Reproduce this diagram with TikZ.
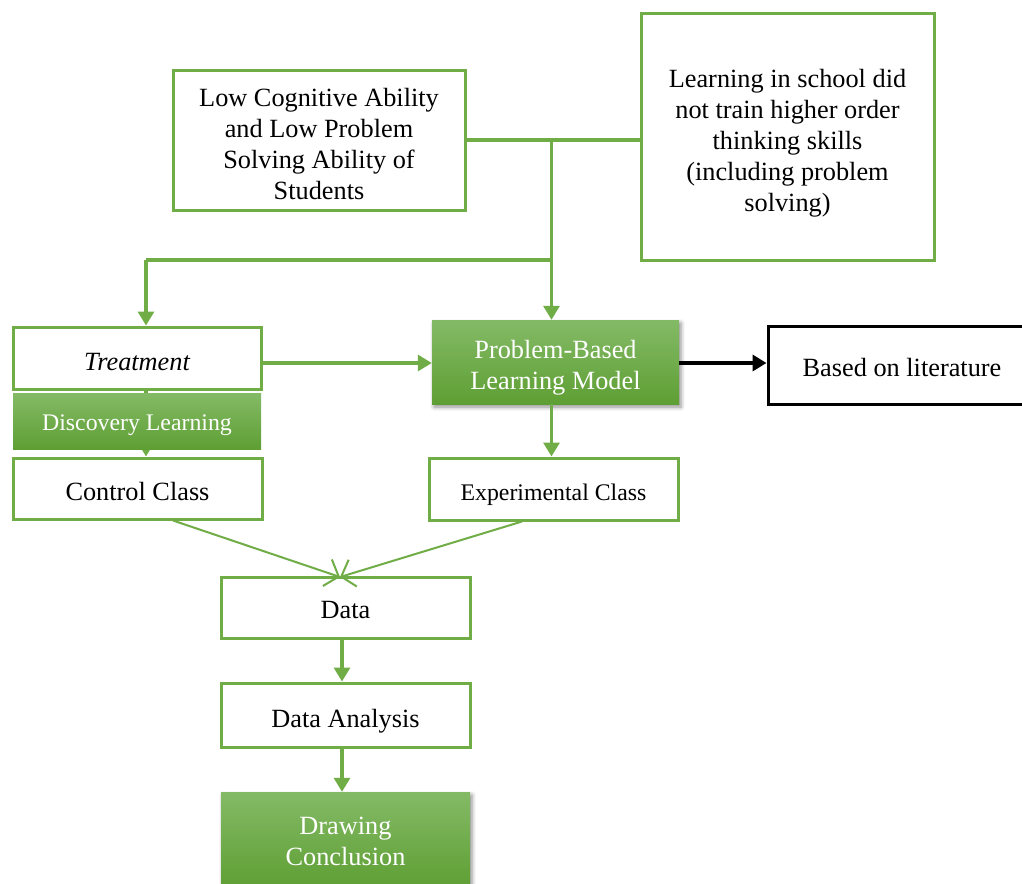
\documentclass[tikz,border=0pt]{standalone}
\usepackage{fontspec}
\setmainfont{Liberation Serif}
\usetikzlibrary{arrows.meta,shadows.blur}
\definecolor{gline}{HTML}{70AD47}
\definecolor{gtop}{HTML}{84BA66}
\definecolor{gbot}{HTML}{5E9F34}
% centred lines of box text, set a little below the box centre
\newcommand{\boxlines}[2][5pt]{\raisebox{-#1}[\height][\depth]{\begin{tabular}{@{}c@{}}#2\end{tabular}}}
\tikzset{
  wbox/.style={draw=gline, line width=3pt, fill=white,
    inner sep=0pt, font=\fontsize{26.3}{31}\selectfont},
  gbox/.style={top color=gtop, bottom color=gbot, draw=none, text=white,
    inner sep=0pt, font=\fontsize{26.3}{31}\selectfont},
  shadowed/.style={blur shadow={shadow xshift=2pt, shadow yshift=-3pt,
    shadow blur radius=4pt, shadow opacity=45}},
  small/.style={font=\fontsize{23.8}{28}\selectfont},
  gconn/.style={draw=gline, line width=3.2pt},
  garrow/.style={gconn, -{Triangle[width=16pt,length=14pt]}},
  thinarrow/.style={draw=gline, line width=2pt,
    -{Straight Barb[length=12pt,width=28pt,line width=2pt]}},
  blackarrow/.style={draw=black, line width=3.5pt,
    -{Triangle[width=16pt,length=14pt]}},
}
\begin{document}
\begin{tikzpicture}[x=1pt,y=-1pt]
\useasboundingbox (0,0) rectangle (1022,883);

% boxes of the top row
\node[wbox, minimum width=292pt, minimum height=140pt] (low) at (319,140)
  {\boxlines[7pt]{Low Cognitive Ability\\and Low Problem\\Solving Ability of\\Students}};
\node[wbox, minimum width=293pt, minimum height=246pt] (school) at (787.5,137)
  {\boxlines[6pt]{Learning in school did\\not train higher order\\thinking skills\\(including problem\\solving)}};

% treatment branch
\node[wbox, minimum width=248pt, minimum height=62pt] (treat) at (137,358)
  {\boxlines[6pt]{\itshape Treatment}};
\node[wbox, minimum width=249pt, minimum height=61pt] (ctrl) at (137.5,488.5)
  {\boxlines[6pt]{Control Class}};

% problem-based learning branch
\node[gbox, shadowed, minimum width=247pt, minimum height=84pt] (pbl) at (555.5,362)
  {\boxlines[6pt]{Problem-Based\\Learning Model}};
\node[draw=black, line width=3pt, fill=white, inner sep=0pt,
  minimum width=268pt, minimum height=78pt,
  font=\fontsize{26.3}{31}\selectfont] (lit) at (902,365)
  {\boxlines[5pt]{Based on literature}};
\node[wbox, small, minimum width=249pt, minimum height=62pt] (exp) at (553.5,489)
  {\boxlines[6pt]{Experimental Class}};

% analysis chain
\node[wbox, minimum width=249pt, minimum height=61pt] (data) at (345.5,607.5)
  {\boxlines[5pt]{Data}};
\node[wbox, minimum width=249pt, minimum height=64pt] (ana) at (345.5,715)
  {\boxlines[6pt]{Data Analysis}};
\node[gbox, shadowed, minimum width=249pt, minimum height=96pt] (conc) at (345.5,840)
  {\boxlines[4pt]{Drawing\\Conclusion}};

% junction points of the connector tree
\coordinate (j1) at (551.5,140);
\coordinate (j2) at (551.5,260);
\coordinate (j3) at (146,260);

\draw[gconn] (low.east) -- (low.east -| school.west);
\draw[garrow] (j1) -- (j1 |- pbl.north);
\draw[gconn] (j2) -- (j3);
\draw[garrow] (j3) -- (j3 |- treat.north);
\draw[garrow] (treat.south -| j3) -- (ctrl.north -| j3);
\draw[garrow] (treat.east |- 0,363) -- (pbl.west |- 0,363);
\draw[blackarrow] (pbl.east |- 0,363) -- (lit.west |- 0,363);
\draw[garrow] (pbl.south -| j1) -- (exp.north -| j1);

% discovery learning band laid over the treatment connector
\node[gbox, small, minimum width=248pt, minimum height=56pt] (disc) at (137,421)
  {\boxlines[4pt]{Discovery Learning}};

% converging connectors into the data box
\coordinate (dtop) at (340,577);
\draw[thinarrow] (ctrl.south -| 173,0) -- (dtop);
\draw[thinarrow] (exp.south -| 522,0) -- (dtop);

\draw[garrow] (data.south -| 342,0) -- (ana.north -| 342,0);
\draw[garrow] (ana.south -| 342,0) -- (conc.north -| 342,0);
\end{tikzpicture}
\end{document}
